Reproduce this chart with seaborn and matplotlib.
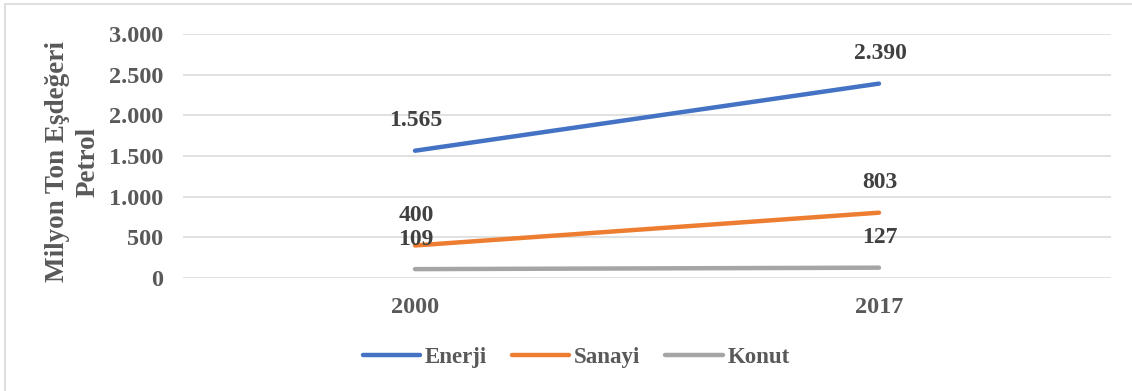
import matplotlib
matplotlib.use("Agg")
import matplotlib.pyplot as plt
from matplotlib.patches import Rectangle
from matplotlib.ticker import FuncFormatter
import seaborn as sns
import pandas as pd

years = ["2000", "2017"]
enerji = [1565, 2390]
sanayi = [400, 803]
konut = [109, 127]
series_names = ["Enerji", "Sanayi", "Konut"]
colors = ["#4472C4", "#ED7D31", "#A5A5A5"]

rows = []
for name, vals in zip(series_names, [enerji, sanayi, konut]):
    for i, (yr, v) in enumerate(zip(years, vals)):
        rows.append({"pos": i, "year": yr, "value": v, "series": name})
df = pd.DataFrame(rows)

sns.set_theme(style="white")
plt.rcParams["font.family"] = ["Liberation Serif", "DejaVu Serif"]
plt.rcParams["font.weight"] = "bold"

W, H = 1132, 391
fig = plt.figure(figsize=(W / 100, H / 100), dpi=100)
ax = fig.add_axes([183 / W, 1 - 278 / H, (1111 - 183) / W, (278 - 34) / H])

sns.lineplot(data=df, x="pos", y="value", hue="series", palette=colors,
             linewidth=3.2, ax=ax, legend=True, solid_capstyle="round")

ax.set_xlim(-0.5, 1.5)
ax.set_ylim(0, 3000)
ax.set_yticks(range(0, 3001, 500))
ax.yaxis.set_major_formatter(FuncFormatter(lambda v, p: f"{int(v):,}".replace(",", ".")))
ax.set_xticks(range(len(years)))
ax.set_xticklabels(years)
ax.grid(axis="y", color="#D9D9D9", linewidth=1.1)
ax.grid(axis="x", visible=False)
ax.set_axisbelow(True)
for s in ax.spines.values():
    s.set_visible(False)
ax.tick_params(axis="both", length=0, labelsize=17.5, labelcolor="#595959")
ax.tick_params(axis="y", pad=14)
ax.tick_params(axis="x", pad=14)
for lbl in ax.get_xticklabels() + ax.get_yticklabels():
    lbl.set_fontweight("bold")
ax.set_xlabel("")
ax.set_ylabel("")

# value labels above each point
for name, vals in zip(series_names, [enerji, sanayi, konut]):
    for i, v in enumerate(vals):
        ax.annotate(f"{v:,}".replace(",", "."), (i, v), textcoords="offset pixels",
                    xytext=(1, 30), ha="center", va="center", fontsize=17,
                    fontweight="bold", color="#404040")

fig.text(73 / W, 1 - 162 / H, "Milyon Ton Eşdeğeri\nPetrol", rotation=90,
         ha="center", va="center", multialignment="center", fontsize=19.5,
         fontweight="bold", color="#595959", linespacing=1.3)

handles, labels = ax.get_legend_handles_labels()
ax.legend_.remove()
leg = fig.legend(handles, labels, loc="center", bbox_to_anchor=(0.509, 1 - 357 / H),
                 ncol=3, frameon=False, handlelength=2.5, handletextpad=0.2,
                 columnspacing=1.1, prop={"size": 16.5, "weight": "bold"})
for t in leg.get_texts():
    t.set_color("#595959")
for l in leg.get_lines():
    l.set_linewidth(3.2)
    l.set_solid_capstyle("round")

fig.patches.append(Rectangle((5 / W, -0.1), 1.2, 1.1 - 4 / H, transform=fig.transFigure,
                             fill=False, edgecolor="#D9D9D9", linewidth=1.2))

fig.savefig("out.png", dpi=100, facecolor="white")
